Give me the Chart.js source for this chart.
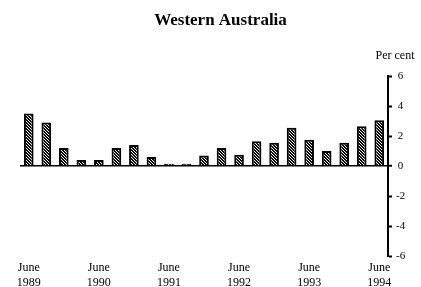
<!DOCTYPE html>
<html>
<head>
<meta charset="utf-8">
<script src="https://cdn.jsdelivr.net/npm/chart.js@4.4.0/dist/chart.umd.min.js"></script>
<style>
  html, body { margin: 0; padding: 0; background: #fff; }
  #wrap { width: 421px; height: 287px; position: relative; }
</style>
</head>
<body>
<div id="wrap"><canvas id="waChart"></canvas></div>
<script>
const titleText = 'Western Australia';
const unitText = 'Per cent';

// quarterly, June 1989 .. June 1994
const labels = [
    ['June', '1989'], '', '', '',
    ['June', '1990'], '', '', '',
    ['June', '1991'], '', '', '',
    ['June', '1992'], '', '', '',
    ['June', '1993'], '', '', '',
    ['June', '1994']
];

const values = [3.5, 2.9, 1.2, 0.4, 0.4, 1.2, 1.4, 0.6, 0.15, 0.15, 0.7, 1.2, 0.75, 1.65, 1.55, 2.55, 1.75, 1.0, 1.55, 2.65, 3.05];

const yTicks = [-6, -4, -2, 0, 2, 4, 6];

// dark dotted fill like the printed bars
function makePattern() {
    const c = document.createElement('canvas');
    c.width = 3; c.height = 3;
    const p = c.getContext('2d');
    p.fillStyle = '#000';
    p.fillRect(0, 0, 3, 3);
    p.fillStyle = '#fff';
    p.fillRect(1, 0, 1, 1);
    p.fillRect(0, 2, 1, 1);
    p.fillRect(2, 1, 1, 1);
    return p.createPattern(c, 'repeat');
}

const textPlugin = {
    id: 'textPlugin',
    afterDraw(chart) {
        const {ctx, chartArea} = chart;
        ctx.save();
        ctx.fillStyle = '#000';
        ctx.textAlign = 'center';
        ctx.textBaseline = 'middle';
        ctx.font = 'bold 17px "Liberation Serif"';
        ctx.fillText(titleText, (chartArea.left + chart.width) / 2, 21);
        ctx.font = '12px "Liberation Serif"';
        ctx.fillText(unitText, chartArea.right + 7, chartArea.top - 20);
        ctx.restore();
    }
};

const ctx = document.getElementById('waChart').getContext('2d');

new Chart(ctx, {
    type: 'bar',
    data: {
        labels: labels,
        datasets: [{
            data: values,
            backgroundColor: makePattern(),
            borderColor: '#000',
            borderWidth: 2,
            categoryPercentage: 1,
            barPercentage: 0.55
        }]
    },
    options: {
        responsive: true,
        maintainAspectRatio: false,
        animation: false,
        layout: {
            padding: { top: 76, left: 20, right: 0, bottom: 0 }
        },
        plugins: {
            legend: { display: false },
            title: { display: false },
            tooltip: { enabled: false }
        },
        scales: {
            x: {
                grid: { display: false, drawTicks: false },
                border: { display: false },
                afterFit: (s) => { s.height = 31; },
                ticks: {
                    color: '#000',
                    maxRotation: 0,
                    autoSkip: false,
                    padding: 5,
                    font: { family: 'Liberation Serif', size: 12 }
                }
            },
            y: {
                position: 'right',
                min: -6,
                max: 6,
                z: 1,
                afterFit: (s) => { s.width = 33; },
                afterBuildTicks: (s) => { s.ticks = yTicks.map(v => ({ value: v })); },
                border: { display: true, color: '#000', width: 2 },
                grid: {
                    drawOnChartArea: true,
                    color: (c) => c.tick.value === 0 ? '#000' : (c.tick.value === 2 ? '#fff' : 'rgba(0,0,0,0)'),
                    lineWidth: (c) => c.tick.value === 0 ? 1.5 : 1,
                    tickColor: '#000',
                    tickWidth: 2,
                    tickLength: 4
                },
                ticks: {
                    color: '#000',
                    padding: 4,
                    crossAlign: 'center',
                    font: { family: 'Liberation Serif', size: 11 }
                }
            }
        }
    },
    plugins: [textPlugin]
});
</script>
</body>
</html>
